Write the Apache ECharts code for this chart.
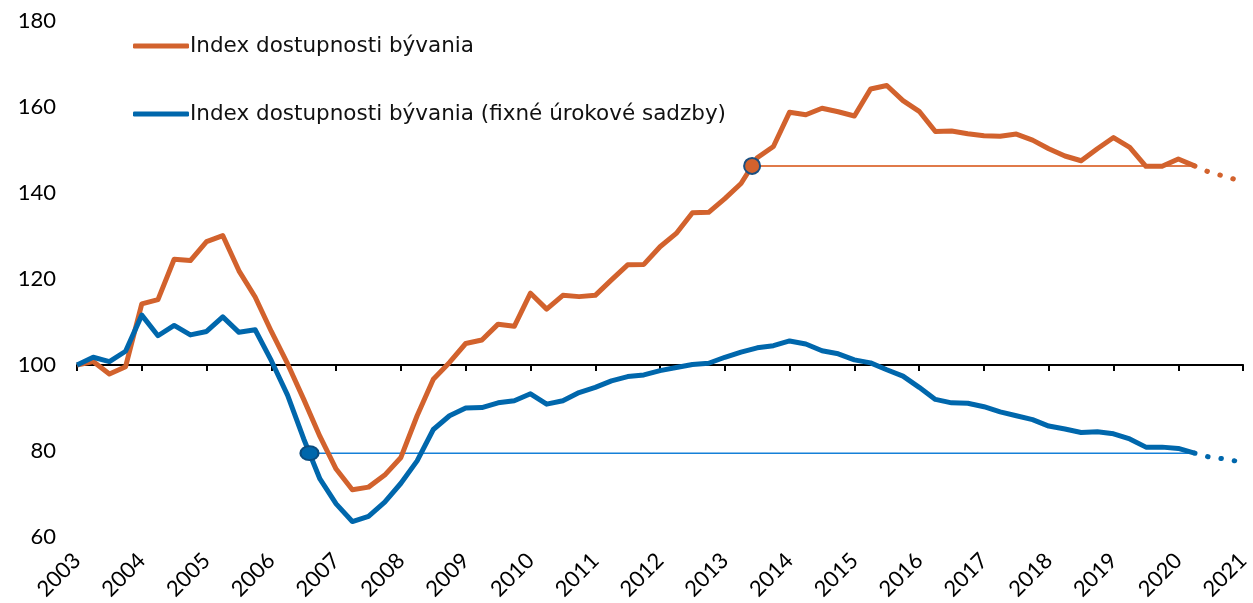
<!DOCTYPE html>
<html lang="sk">
<head>
    <meta charset="UTF-8">
    <title>Index dostupnosti bývania</title>
    <style>
        html, body { margin: 0; padding: 0; background: #fff; }
        #box { width: 1253px; height: 603px; }
    </style>
</head>
<body>
    <div id="box"></div>
    <script src="https://cdn.jsdelivr.net/npm/echarts@6/dist/echarts.min.js"></script>
    <script>
        // štvrťročné údaje od 2003 Q1
        var startYear = 2003;
        var yTicks = [60, 80, 100, 120, 140, 160, 180];

        var indexDostupnosti = [
            100, 100.8, 97.9, 99.6, 114.2, 115.2, 124.6, 124.3, 128.7, 130.1,
            121.9, 115.8, 107.8, 100.3, 92.0, 83.4, 75.8, 71.0, 71.6, 74.4,
            78.5, 88.2, 96.7, 100.6, 105.0, 105.8, 109.5, 109.0, 116.7, 113.0,
            116.2, 115.9, 116.2, 119.8, 123.3, 123.4, 127.5, 130.6, 135.4, 135.5,
            138.7, 142.2, 148.2, 150.8, 158.8, 158.2, 159.7, 158.9, 157.9, 164.2,
            165.0, 161.5, 159.0, 154.3, 154.4, 153.8, 153.3, 153.2, 153.7, 152.3,
            150.3, 148.6, 147.5, 150.3, 152.9, 150.6, 146.2, 146.2, 147.9, 146.3
        ];
        var indexDostupnostiPrognoza = [144.7, 143.8, 142.5];

        var indexFixne = [
            100, 101.8, 100.8, 103.2, 111.6, 106.8, 109.2, 107.0, 107.8, 111.2,
            107.6, 108.2, 101.0, 93.0, 82.8, 73.5, 67.7, 63.6, 64.8, 68.1,
            72.5, 77.7, 85.0, 88.2, 90.0, 90.1, 91.2, 91.7, 93.3, 90.9,
            91.7, 93.6, 94.8, 96.3, 97.3, 97.7, 98.7, 99.4, 100.1, 100.4,
            101.8, 103.0, 104.0, 104.5, 105.6, 104.9, 103.3, 102.6, 101.2, 100.5,
            98.9, 97.4, 94.8, 92.0, 91.2, 91.1, 90.3, 89.1, 88.2, 87.3,
            85.8, 85.1, 84.3, 84.5, 84.0, 82.8, 80.9, 80.9, 80.6, 79.5
        ];
        var indexFixnePrognoza = [78.5, 78.1, 77.3];

        var orange = '#D2622D';
        var blue = '#0067AC';

        function pairs(arr, from) {
            return arr.map(function (v, i) { return [from + i, v]; });
        }

        // miesto, kde rad prvýkrát dosiahol poslednú hodnotu
        function firstCross(arr) {
            var level = arr[arr.length - 1];
            for (var k = 0; k < arr.length - 1; k++) {
                var a = arr[k] - level, b = arr[k + 1] - level;
                if (a === 0) return [k, level];
                if (a * b < 0) return [k + a / (a - b), level];
            }
            return [arr.length - 1, level];
        }

        var lastIdx = indexDostupnosti.length - 1;
        var maxIdx = lastIdx + indexDostupnostiPrognoza.length;
        var crossO = firstCross(indexDostupnosti);
        var crossB = firstCross(indexFixne);

        var gridTop = 21, gridBottom = 66;
        var gridH = 603 - gridTop - gridBottom;
        var yMin = yTicks[0], yMax = yTicks[yTicks.length - 1];

        var myChart = echarts.init(document.getElementById('box'));

        var option = {
            animation: false,
            grid: { left: 77, right: 8, top: gridTop, bottom: gridBottom },
            legend: {
                orient: 'vertical',
                left: 128,
                top: 30,
                itemWidth: 56,
                itemHeight: 5,
                itemGap: 46,
                icon: 'roundRect',
                data: ['Index dostupnosti bývania', 'Index dostupnosti bývania (fixné úrokové sadzby)'],
                textStyle: { fontFamily: 'DejaVu Sans', fontSize: 21.5, color: '#111', padding: [0, 0, 0, -4] }
            },
            xAxis: [
                {
                    type: 'value', min: 0, max: maxIdx, interval: 4,
                    axisLine: { show: false },
                    axisTick: { show: false },
                    splitLine: { show: false },
                    axisLabel: {
                        rotate: 45, margin: 20,
                        fontFamily: 'Lato', fontSize: 22, color: '#000',
                        formatter: function (v) { return String(startYear + v / 4); }
                    }
                },
                {
                    // os na úrovni 100
                    type: 'value', min: 0, max: maxIdx, interval: 4,
                    position: 'bottom',
                    offset: -gridH * (100 - yMin) / (yMax - yMin),
                    axisLine: { lineStyle: { color: '#000', width: 2 } },
                    axisTick: { show: true, length: 6, lineStyle: { color: '#000', width: 2 } },
                    axisLabel: { show: false },
                    splitLine: { show: false }
                }
            ],
            yAxis: {
                type: 'value', min: yMin, max: yMax, interval: 20,
                axisLine: { show: false },
                axisTick: { show: false },
                splitLine: { show: false },
                axisLabel: { margin: 21, fontFamily: 'Lato', fontSize: 22, color: '#000' }
            },
            series: [
                {
                    name: 'hladina1', type: 'line', z: 1, silent: true,
                    data: [crossO, [lastIdx, crossO[1]]],
                    symbol: 'none',
                    lineStyle: { color: '#E07A4A', width: 2 }
                },
                {
                    name: 'hladina2', type: 'line', z: 1, silent: true,
                    data: [crossB, [lastIdx, crossB[1]]],
                    symbol: 'none',
                    lineStyle: { color: '#1580D8', width: 1.5 }
                },
                {
                    name: 'Index dostupnosti bývania', type: 'line', z: 2,
                    data: pairs(indexDostupnosti, 0),
                    symbol: 'none',
                    itemStyle: { color: orange },
                    lineStyle: { color: orange, width: 5, join: 'round' }
                },
                {
                    name: 'Index dostupnosti bývania (fixné úrokové sadzby)', type: 'line', z: 2,
                    data: pairs(indexFixne, 0),
                    symbol: 'none',
                    itemStyle: { color: blue },
                    lineStyle: { color: blue, width: 5, join: 'round' }
                },
                {
                    name: 'prognoza1', type: 'line', z: 2,
                    data: pairs([indexDostupnosti[lastIdx]].concat(indexDostupnostiPrognoza), lastIdx),
                    symbol: 'none',
                    lineStyle: { color: orange, width: 5, type: [0.5, 13], cap: 'round' }
                },
                {
                    name: 'prognoza2', type: 'line', z: 2,
                    data: pairs([indexFixne[lastIdx]].concat(indexFixnePrognoza), lastIdx),
                    symbol: 'none',
                    lineStyle: { color: blue, width: 5, type: [0.5, 13], cap: 'round' }
                },
                {
                    name: 'bod1', type: 'scatter', z: 3,
                    data: [crossO],
                    symbolSize: 16,
                    itemStyle: { color: orange, borderColor: '#1B4F80', borderWidth: 2, opacity: 1 }
                },
                {
                    name: 'bod2', type: 'scatter', z: 3,
                    data: [crossB],
                    symbolSize: [18, 14],
                    itemStyle: { color: blue, borderColor: '#0A4C7F', borderWidth: 2, opacity: 1 }
                }
            ]
        };

        myChart.setOption(option);

        window.addEventListener('resize', function () {
            myChart.resize();
        });
    </script>
</body>
</html>
